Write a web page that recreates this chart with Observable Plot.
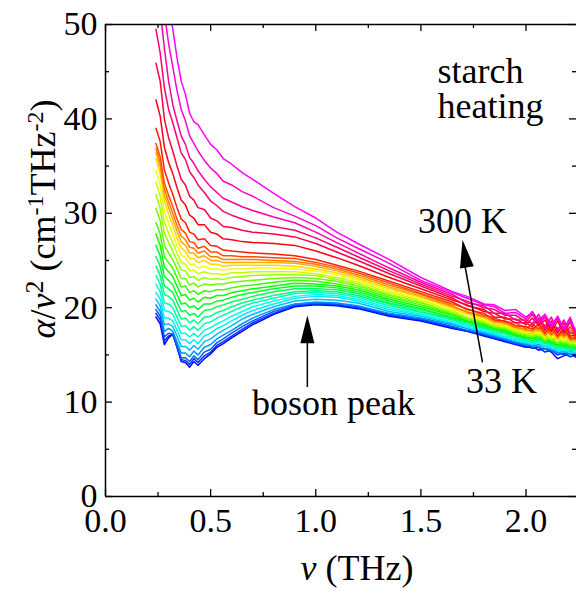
<!DOCTYPE html>
<html>
<head>
<meta charset="utf-8">
<script src="https://cdn.jsdelivr.net/npm/d3@7"></script>
<script src="https://cdn.jsdelivr.net/npm/@observablehq/plot@0.6"></script>
<style>
  html, body { margin: 0; padding: 0; background: #fff; }
  html body #chart svg text, html body #chart svg tspan, html body #chart svg g { font-family: "Liberation Serif", serif !important; }
</style>
</head>
<body>
<div id="chart"></div>
<script>
// Frequency grid (THz)
const nu = [0.24,0.26,0.28,0.30,0.32,0.34,0.36,0.38,0.40,0.42,0.44,0.47,0.50,0.53,0.56,0.60,0.65,0.70,0.80,0.90,1.00,1.10,1.20,1.35,1.50,
            1.65,1.72,1.80,1.85,1.90,1.95,2.00,2.03,2.06,2.09,2.12,2.15,2.18,2.21,2.24];
// Temperatures (K), heating from 33 K to 300 K
const temps = [33,40,50,60,70,80,90,100,110,120,130,140,150,160,170,180,190,200,210,220,230,240,250,260,270,280,290,300];

// alpha/nu^2 (cm^-1 THz^-2) for each temperature
const K033 = [19.0,18.3,16.1,16.8,17.2,15.8,14.3,14.2,13.7,14.3,13.9,14.6,15.1,15.8,16.2,16.8,17.5,18.2,19.3,20.1,20.3,20.2,19.9,19.1,18.6, 17.8,17.5,17.0,16.7,16.4,16.1,15.8,15.9,15.5,15.7,15.3,14.6,14.9,15.2,14.7];
const K040 = [19.4,18.7,16.5,17.0,17.2,15.9,14.5,14.4,14.0,14.6,14.2,14.9,15.3,16.0,16.4,17.0,17.7,18.4,19.4,20.2,20.4,20.3,20.0,19.2,18.7, 17.9,17.5,17.1,16.8,16.5,16.3,15.9,15.7,15.8,15.3,15.5,15.0,15.2,14.8,15.0];
const K050 = [19.8,19.1,16.9,17.3,17.2,16.0,14.7,14.7,14.3,14.9,14.5,15.3,15.6,16.3,16.7,17.3,18.0,18.6,19.6,20.3,20.5,20.4,20.1,19.3,18.8, 18.0,17.6,17.2,16.9,16.6,16.2,16.0,16.1,15.8,15.6,15.5,15.3,15.0,15.4,15.1];
const K060 = [20.3,19.6,17.5,17.8,17.5,16.4,15.2,15.2,14.8,15.4,15.0,15.8,16.1,16.7,17.1,17.6,18.3,18.9,19.8,20.4,20.6,20.5,20.2,19.4,18.9, 18.2,17.8,17.3,17.0,16.7,16.4,16.1,15.9,16.1,15.7,15.6,15.2,15.4,15.0,15.2];
const K070 = [20.9,20.2,18.2,18.3,18.0,17.0,15.9,15.9,15.5,16.0,15.6,16.4,16.7,17.2,17.6,18.1,18.8,19.3,20.1,20.7,20.9,20.8,20.5,19.6,19.1, 18.3,17.9,17.4,17.1,16.8,16.6,16.2,16.3,15.9,16.0,15.6,15.5,15.3,15.6,15.1];
const K080 = [21.6,20.9,18.9,18.9,18.6,17.6,16.6,16.6,16.2,16.6,16.2,17.0,17.3,17.8,18.1,18.6,19.2,19.7,20.4,21.0,21.2,21.1,20.7,19.8,19.2, 18.4,17.9,17.5,17.2,16.9,16.5,16.3,16.1,16.3,15.8,15.9,15.4,15.6,15.2,15.4];
const K090 = [22.5,21.7,19.7,19.6,19.3,18.3,17.3,17.3,16.9,17.3,16.9,17.6,17.9,18.3,18.6,19.1,19.6,20.1,20.7,21.2,21.4,21.3,20.9,20.0,19.3, 18.5,18.1,17.6,17.3,17.0,16.8,16.4,16.5,16.2,16.3,15.8,15.7,15.5,15.9,15.2];
const K100 = [23.4,22.5,20.5,20.4,20.0,19.0,18.0,18.1,17.6,18.0,17.6,18.3,18.5,18.9,19.2,19.6,20.1,20.5,21.0,21.5,21.6,21.5,21.1,20.2,19.5, 18.7,18.2,17.8,17.4,17.2,16.8,16.5,16.3,16.5,16.0,16.1,15.6,15.8,15.4,15.5];
const K110 = [24.4,23.4,21.4,21.2,20.8,19.8,18.8,18.9,18.4,18.7,18.3,19.0,19.1,19.5,19.7,20.1,20.5,20.8,21.3,21.7,21.8,21.7,21.3,20.4,19.6, 18.8,18.4,17.9,17.6,17.3,17.0,16.6,16.8,16.4,16.6,16.0,16.1,15.7,16.1,15.4];
const K120 = [25.4,24.4,22.3,22.0,21.6,20.6,19.6,19.7,19.2,19.4,19.0,19.7,19.8,20.1,20.3,20.6,20.9,21.2,21.7,22.0,22.0,21.9,21.5,20.5,19.8, 18.9,18.4,18.0,17.6,17.4,17.0,16.7,16.5,16.8,16.2,16.3,15.8,16.0,15.6,15.7];
const K130 = [26.6,25.5,23.3,22.9,22.4,21.4,20.4,20.5,20.0,20.2,19.8,20.4,20.4,20.7,20.8,21.1,21.4,21.6,22.0,22.3,22.3,22.1,21.7,20.7,19.9, 19.0,18.6,18.1,17.8,17.5,17.2,16.8,17.0,16.6,16.8,16.2,16.4,15.9,16.3,15.6];
const K140 = [27.8,26.6,24.3,23.8,23.3,22.3,21.3,21.4,20.8,21.0,20.6,21.1,21.0,21.3,21.3,21.6,21.8,22.0,22.3,22.6,22.5,22.3,21.9,20.9,20.1, 19.2,18.6,18.2,17.8,17.6,17.1,16.9,16.7,17.0,16.4,16.5,16.0,16.2,15.8,15.8];
const K150 = [29.0,27.8,25.4,24.8,24.2,23.2,22.2,22.3,21.6,21.8,21.4,21.8,21.7,21.9,21.9,22.1,22.3,22.4,22.7,22.9,22.8,22.5,22.1,21.1,20.3, 19.3,18.8,18.3,18.0,17.7,17.4,17.0,17.2,16.8,17.1,16.4,16.7,16.1,16.6,15.8];
const K160 = [30.5,29.2,26.6,25.8,25.1,24.1,23.1,23.1,22.4,22.6,22.2,22.5,22.4,22.5,22.5,22.7,22.8,22.9,23.1,23.2,23.1,22.8,22.3,21.3,20.5, 19.4,18.8,18.4,17.9,17.8,17.3,17.1,16.9,17.2,16.5,16.8,16.2,16.5,16.0,16.0];
const K170 = [32.0,30.5,27.9,26.9,26.0,25.0,24.0,23.9,23.2,23.3,22.9,23.2,23.0,23.1,23.0,23.2,23.3,23.4,23.5,23.5,23.4,23.0,22.5,21.4,20.6, 19.5,19.0,18.5,18.2,17.9,17.6,17.2,17.4,17.0,17.3,16.6,16.9,16.3,16.9,16.0];
const K180 = [33.3,31.8,29.1,27.9,26.9,25.8,24.8,24.6,23.9,24.0,23.6,23.8,23.6,23.6,23.5,23.7,23.7,23.8,23.8,23.8,23.6,23.2,22.7,21.6,20.8, 19.7,19.0,18.6,18.1,18.0,17.5,17.3,17.1,17.4,16.7,17.1,16.4,16.8,16.2,16.2];
const K190 = [34.6,33.0,30.2,28.9,27.8,26.6,25.6,25.3,24.6,24.6,24.2,24.4,24.1,24.1,24.0,24.1,24.1,24.2,24.2,24.1,23.9,23.5,22.9,21.8,20.9, 19.8,19.3,18.7,18.4,18.1,17.8,17.4,17.7,17.2,17.6,16.8,17.3,16.5,17.2,16.2];
const K200 = [35.8,34.2,31.3,29.9,28.7,27.4,26.3,26.0,25.2,25.2,24.8,25.0,24.6,24.6,24.4,24.5,24.5,24.5,24.5,24.4,24.1,23.7,23.1,22.0,21.1, 20.0,19.3,18.9,18.3,18.2,17.7,17.5,17.3,17.7,16.9,17.4,16.6,17.1,16.4,16.4];
const K210 = [36.4,34.9,32.0,30.6,29.4,28.1,27.0,26.6,25.8,25.8,25.3,25.5,25.0,25.0,24.8,24.8,24.8,24.8,24.8,24.7,24.4,23.9,23.3,22.2,21.2, 20.1,19.6,19.0,18.7,18.3,18.1,17.6,18.0,17.5,17.9,17.0,17.6,16.8,17.6,16.4];
const K220 = [36.9,35.4,32.6,31.2,30.0,28.7,27.6,27.2,26.4,26.3,25.8,26.0,25.4,25.4,25.1,25.1,25.1,25.1,25.0,24.9,24.6,24.1,23.5,22.4,21.4, 20.2,19.5,19.1,18.5,18.4,17.9,17.7,17.5,18.0,17.1,17.7,16.8,17.5,16.6,16.6];
const K230 = [37.4,36.0,33.2,31.9,30.7,29.4,28.3,27.9,27.0,26.9,26.3,26.5,25.9,25.9,25.5,25.5,25.4,25.4,25.3,25.2,24.8,24.3,23.7,22.6,21.5, 20.4,19.9,19.2,18.9,18.5,18.4,17.8,18.3,17.7,18.2,17.2,17.9,17.0,18.0,16.6];
const K240 = [39.0,37.6,34.6,33.2,32.0,30.6,29.4,29.0,28.0,27.8,27.2,27.3,26.6,26.5,26.1,26.0,25.9,25.8,25.7,25.5,25.1,24.5,23.9,22.8,21.7, 20.6,19.8,19.4,18.7,18.6,18.1,18.0,17.7,18.3,17.3,18.1,17.0,17.8,16.8,16.8];
const K250 = [42.0,40.3,37.0,35.4,34.2,32.7,31.4,30.9,29.8,29.5,28.8,28.8,28.0,27.8,27.3,27.2,27.0,26.9,26.8,26.6,26.0,25.3,24.5,23.2,22.0, 20.8,20.3,19.6,19.4,18.8,18.8,18.2,18.9,18.1,18.7,17.5,18.6,17.3,18.5,16.9];
const K260 = [45.9,44.0,40.0,38.0,36.6,35.0,33.6,33.0,31.8,31.4,30.6,30.4,29.5,29.2,28.6,28.5,28.2,28.0,27.8,27.5,26.8,25.9,25.0,23.6,22.3, 21.0,20.2,19.8,19.0,19.0,18.4,18.4,18.0,18.9,17.6,18.6,17.3,18.4,17.0,17.1];
const K270 = [49.5,47.0,43.3,41.0,39.6,38.0,36.4,35.7,34.4,33.8,33.0,32.2,31.3,30.8,30.2,29.8,29.4,29.0,28.6,28.2,27.4,26.4,25.4,23.9,22.5, 21.2,20.7,20.0,19.8,19.2,19.2,18.5,19.3,18.3,19.0,17.8,18.9,17.5,18.8,17.0];
const K280 = [54.5,51.5,47.5,44.0,41.5,39.8,38.2,37.3,35.9,35.3,34.5,33.6,32.8,32.2,31.6,31.2,30.7,30.3,29.6,29.0,28.0,26.9,25.8,24.2,22.7, 21.4,20.5,20.2,19.4,19.4,18.7,18.7,18.3,19.3,17.9,19.0,17.6,18.7,17.3,17.3];
const K290 = [58.0,54.5,51.2,48.0,45.5,43.0,41.0,39.8,38.2,37.4,36.6,35.6,34.8,34.2,33.4,33.0,32.3,31.8,30.6,29.7,28.7,27.4,26.3,24.7,22.9, 21.6,21.0,20.3,20.1,19.4,19.5,18.8,19.6,18.5,19.2,18.0,19.1,17.7,19.0,17.2];
const K300 = [62.0,58.5,55.0,52.0,49.5,46.5,44.0,42.6,40.6,39.7,39.4,38.3,37.3,36.7,35.8,35.2,34.3,33.6,32.1,30.7,29.5,28.0,26.8,25.1,23.2, 21.7,21.2,20.4,20.3,19.7,19.8,19.0,19.5,18.7,19.3,18.2,19.0,17.9,18.6,17.5];

const curves = [K033,K040,K050,K060,K070,K080,K090,K100,K110,K120,K130,K140,K150,K160,K170,K180,K190,K200,K210,K220,K230,K240,K250,K260,K270,K280,K290,K300];

// Axis ticks
const xMajor = [0, 0.5, 1.0, 1.5, 2.0];
const xMinor = [0.25, 0.75, 1.25, 1.75, 2.25];
const yMajor = [0, 10, 20, 30, 40, 50];
const yMinor = [5, 15, 25, 35, 45];

// Annotations (data units)
const notes = [
  {x: 1.783, y: 45.0, text: "starch"},
  {x: 1.831, y: 41.3, text: "heating"},
  {x: 1.698, y: 29.1, text: "300 K"},
  {x: 1.883, y: 12.2, text: "33 K"},
  {x: 1.084, y: 9.9, text: "boson peak"}
];
const arrows = [
  {x1: 0.96, y1: 11.6, x2: 0.96, y2: 17.0, tx: 0.96, ty: 19.2, rot: 0},
  {x1: 1.793, y1: 14.2, x2: 1.705, y2: 25.0, tx: 1.698, ty: 27.2, rot: -9}
];

const SERIF = "Liberation Serif";

// Build table
const rows = [];
temps.forEach((T, i) => {
  const col = d3.hsl(240 - 300 * i / (temps.length - 1), 1, 0.5).formatHex();
  curves[i].forEach((v, j) => rows.push({T, nu: nu[j], v, col}));
});

const W = 576, H = 593, ML = 105, MR = 0, MT = 24, MB = 97;
const FW = W - ML - MR, FH = H - MT - MB;

const head = {draw(ctx) { ctx.moveTo(0, 0); ctx.lineTo(7, 28); ctx.lineTo(-7, 28); ctx.closePath(); }};

const svg = Plot.plot({
  width: W, height: H,
  marginLeft: ML, marginRight: MR, marginTop: MT, marginBottom: MB,
  x: {domain: [0, 2.24]},
  y: {domain: [0, 50]},
  color: {type: "identity"},
  marks: [
    Plot.line(rows, {x: "nu", y: "v", z: "T", stroke: "col", strokeWidth: 1.5, clip: true}),
    Plot.ruleX([0], {stroke: "black", strokeWidth: 1.5}),
    Plot.ruleY([0, 50], {stroke: "black", strokeWidth: 1.5}),
    Plot.tickX(xMajor, {x: d => d, insetTop: FH - 7, stroke: "black", strokeWidth: 1.3}),
    Plot.tickX(xMinor, {x: d => d, insetTop: FH - 4, stroke: "black", strokeWidth: 1.3}),
    Plot.tickX(xMajor, {x: d => d, insetBottom: FH - 7, stroke: "black", strokeWidth: 1.3}),
    Plot.tickX(xMinor, {x: d => d, insetBottom: FH - 4, stroke: "black", strokeWidth: 1.3}),
    Plot.tickY(yMajor, {y: d => d, insetRight: FW - 7, stroke: "black", strokeWidth: 1.3}),
    Plot.tickY(yMinor, {y: d => d, insetRight: FW - 4, stroke: "black", strokeWidth: 1.3}),
    Plot.tickY(yMajor, {y: d => d, insetLeft: FW - 7, stroke: "black", strokeWidth: 1.3}),
    Plot.tickY(yMinor, {y: d => d, insetLeft: FW - 4, stroke: "black", strokeWidth: 1.3}),
    Plot.axisX({ticks: xMajor, tickSize: 0, tickPadding: 11, tickFormat: d => d.toFixed(1), label: null, fontSize: 34, fontFamily: SERIF}),
    Plot.axisY({ticks: yMajor, tickSize: 0, tickPadding: 8, tickFormat: d => String(d), label: null, fontSize: 34, fontFamily: SERIF}),
    Plot.link(arrows, {x1: "x1", y1: "y1", x2: "x2", y2: "y2", stroke: "black", strokeWidth: 1.5}),
    Plot.dot(arrows, {x: "tx", y: "ty", symbol: head, rotate: "rot", fill: "black", stroke: "none", r: 4}),
    Plot.text(notes, {x: "x", y: "y", text: "text", fontSize: 36, fontFamily: SERIF, textAnchor: "middle", fill: "black"})
  ]
});

const s = d3.select(svg);
s.attr("font-family", SERIF).style("background", "white").style("color", "black");
// y-axis label
const yl = s.append("text")
  .attr("transform", "translate(55,219) rotate(-90)")
  .attr("text-anchor", "middle")
  .attr("font-size", 36)
  .attr("fill", "black");
yl.append("tspan").attr("font-style", "italic").text("α");
yl.append("tspan").text("/");
yl.append("tspan").attr("font-style", "italic").text("ν");
yl.append("tspan").attr("dy", -12).attr("font-size", 26).text("2");
yl.append("tspan").attr("dy", 12).text(" (cm");
yl.append("tspan").attr("dy", -12).attr("font-size", 24).text("-1");
yl.append("tspan").attr("dy", 12).text("THz");
yl.append("tspan").attr("dy", -12).attr("font-size", 24).text("-2");
yl.append("tspan").attr("dy", 12).text(")");
// x-axis label
const xl = s.append("text")
  .attr("x", 357).attr("y", 580)
  .attr("text-anchor", "middle")
  .attr("font-size", 36)
  .attr("fill", "black");
xl.append("tspan").attr("font-style", "italic").text("ν");
xl.append("tspan").text(" (THz)");

// serif family on every text, with priority
s.selectAll("text, tspan").each(function() {
  this.setAttribute("font-family", SERIF);
  this.style.setProperty("font-family", SERIF, "important");
});

document.getElementById("chart").append(svg);
</script>
</body>
</html>
